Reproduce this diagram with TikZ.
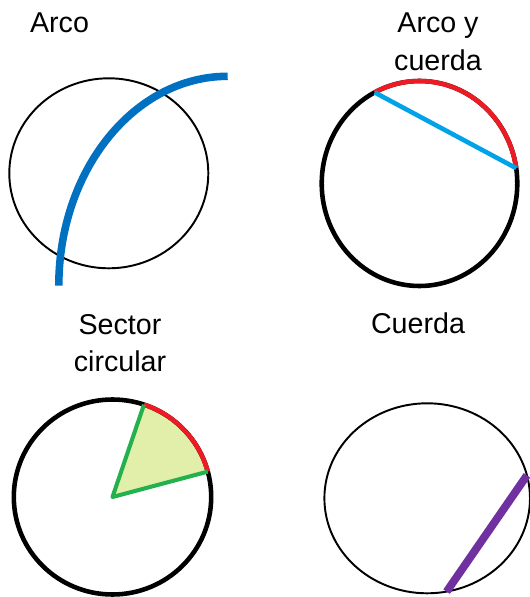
\documentclass[tikz,border=0pt]{standalone}
\usepackage{fontspec}
\setmainfont{Liberation Sans}
\usepackage{xcolor}
\definecolor{arcblue}{HTML}{0070C0}
\definecolor{arcred}{HTML}{ED1C24}
\definecolor{chordcyan}{HTML}{00A2E8}
\definecolor{sectgreen}{HTML}{22B14C}
\definecolor{sectfill}{HTML}{E2EFAA}
\definecolor{chordpurple}{HTML}{7030A0}

\begin{document}
\begin{tikzpicture}[heading/.style={font=\fontsize{16.3}{20}\selectfont, inner sep=0pt, anchor=base}]
    \useasboundingbox (0,0) rectangle (10.6,11.94);

    % Arco
    \coordinate (c1) at (2.176,8.474);
    \draw[line width=1.1pt] (c1) ellipse [x radius=1.99, y radius=1.90];
    \coordinate (a1) at (1.176,6.226);
    \draw[arcblue, line width=4.3pt] (a1) arc [start angle=180, end angle=90, x radius=3.378, y radius=4.188];
    \node[heading] (t1) at (1.19,11.28) {Arco};

    % Arco y cuerda
    \coordinate (c2) at (8.39,8.27);
    \draw[line width=2.6pt] (c2) ellipse [x radius=1.956, y radius=2.05];
    \coordinate (p1) at ([shift={(c2)}]117.3:1.956 and 2.05);
    \coordinate (p2) at ([shift={(c2)}]8.6:1.956 and 2.05);
    \draw[arcred, line width=2.6pt] (p1) arc [start angle=117.3, end angle=8.6, x radius=1.956, y radius=2.05];
    \draw[chordcyan, line width=2.6pt] (p1) -- (p2);
    \node[heading] (t2a) at (8.76,11.294) {Arco y};
    \node[heading] (t2b) at (8.76,10.52) {cuerda};

    % Sector circular
    \coordinate (c3) at (2.25,2.0);
    \coordinate (s1) at ([shift={(c3)}]71.4:1.974 and 1.95);
    \coordinate (s2) at ([shift={(c3)}]15.1:1.974 and 1.95);
    \fill[sectfill] (c3) -- (s1) arc [start angle=71.4, end angle=15.1, x radius=1.974, y radius=1.95] -- cycle;
    \draw[line width=2.6pt] (c3) ellipse [x radius=1.974, y radius=1.95];
    \draw[arcred, line width=2.6pt] (s1) arc [start angle=71.4, end angle=15.1, x radius=1.974, y radius=1.95];
    \draw[sectgreen, line width=2.3pt, line join=round] (s1) -- (c3) -- (s2);
    \node[heading] (t3a) at (2.4,5.24) {Sector};
    \node[heading] (t3b) at (2.4,4.506) {circular};

    % Cuerda
    \coordinate (c4) at (8.544,1.974);
    \draw[line width=1.1pt] (c4) ellipse [x radius=2.056, y radius=1.9];
    \coordinate (q1) at ([shift={(c4)}]-79.1:2.056 and 1.9);
    \coordinate (q2) at ([shift={(c4)}]14:2.056 and 1.9);
    \draw[chordpurple, line width=4.5pt] (q1) -- (q2);
    \node[heading] (t4) at (8.36,5.26) {Cuerda};
\end{tikzpicture}
\end{document}
